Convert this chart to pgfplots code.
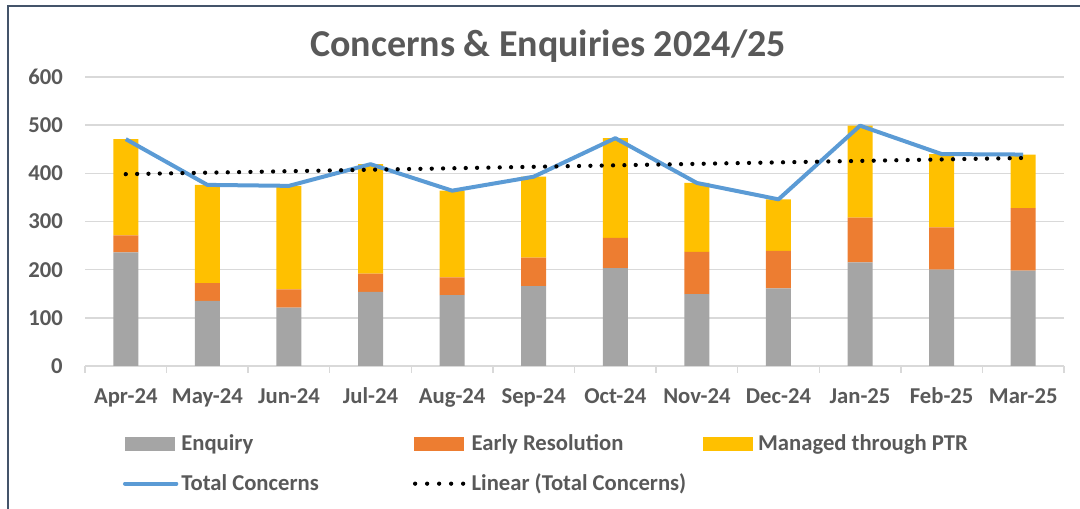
\documentclass[border=0pt]{standalone}
\usepackage{pgfplots}
\pgfplotsset{compat=1.18}
\usepackage{fontspec}
\setmainfont{Carlito}
\definecolor{cgray}{HTML}{A5A5A5}
\definecolor{corange}{HTML}{ED7D31}
\definecolor{cyellow}{HTML}{FFC000}
\definecolor{cblue}{HTML}{5B9BD5}
\definecolor{ctext}{HTML}{595959}
\definecolor{cgrid}{HTML}{D9D9D9}
\definecolor{cframe}{HTML}{44546A}
\newcommand\lbl{\fontsize{17}{20}\selectfont\bfseries}
\newcommand\cell[1]{\makebox[171.75pt][l]{#1}}
\begin{document}
\begin{tikzpicture}[x=1pt,y=1pt]
\useasboundingbox (0,0) rectangle (810,381.75);
\draw[cframe, line width=1.5pt] (6,-20) rectangle (830,377.25);
\node[anchor=base, text=ctext, font=\fontsize{28.5}{33}\selectfont\bfseries] at (411,339.5) {Concerns \& Enquiries 2024/25};
\pgfplotsset{common/.style={
  at={(63.75pt,107.25pt)}, anchor=south west,
  scale only axis, width=734.25pt, height=216.75pt,
  xmin=-0.5, xmax=11.5, ymin=0, ymax=600, enlargelimits=false,
}}
\begin{axis}[common, ybar stacked, bar width=18.75pt,
  axis line style={draw=none},
  ymajorgrids, grid style={cgrid, line width=1.1pt},
  ytick={0,100,...,600},
  xtick={0,...,11},
  xticklabels={Apr-24,May-24,Jun-24,Jul-24,Aug-24,Sep-24,Oct-24,Nov-24,Dec-24,Jan-25,Feb-25,Mar-25},
  minor xtick={-0.5,0.5,...,11.5},
  xtick pos=bottom, ytick pos=left,
  major tick length=0pt, minor tick length=5.25pt, tick align=outside,
  every minor tick/.append style={cgrid, line width=1.1pt},
  ytick style={draw=none},
  /pgf/number format/assume math mode=true,
  ticklabel style={font=\lbl, text=ctext},
  xticklabel style={inner sep=0pt, anchor=base, yshift=-28.5pt},
  yticklabel style={inner sep=0pt, anchor=east, xshift=-16.5pt},
]
\addplot[fill=cgray, draw=none] coordinates {(0,236) (1,135) (2,121) (3,154) (4,147) (5,166) (6,203) (7,149) (8,161) (9,215) (10,200) (11,198)};
\addplot[fill=corange, draw=none] coordinates {(0,35) (1,37) (2,38) (3,38) (4,37) (5,59) (6,63) (7,88) (8,78) (9,93) (10,88) (11,130)};
\addplot[fill=cyellow, draw=none] coordinates {(0,200) (1,204) (2,215) (3,227) (4,180) (5,168) (6,207) (7,143) (8,107) (9,191) (10,152) (11,111)};
\end{axis}
\begin{axis}[common, hide axis, clip=false,
  legend columns=3,
  legend cell align=left,
  legend style={at={(0.0388,-0.2314)}, anchor=north west, draw=none, fill=none,
    inner sep=0pt, outer sep=0pt, font=\lbl, text=ctext,
    row sep=13.8pt, column sep=0pt,
    nodes={inner sep=0pt, text height=13pt, text depth=3.2pt},
    /tikz/every odd column/.append style={column sep=2.25pt}},
]
\addlegendimage{legend image code/.code={\fill[cgray] (1.5pt,-4.75pt) rectangle (38.25pt,4.75pt); \path (0pt,0pt) (40.5pt,0pt);}}
\addlegendentry{\cell{Enquiry}}
\addlegendimage{legend image code/.code={\fill[corange] (1.5pt,-4.75pt) rectangle (38.25pt,4.75pt); \path (0pt,0pt) (40.5pt,0pt);}}
\addlegendentry{\cell{Early Resolution}}
\addlegendimage{legend image code/.code={\fill[cyellow] (1.5pt,-4.75pt) rectangle (38.25pt,4.75pt); \path (0pt,0pt) (40.5pt,0pt);}}
\addlegendentry{Managed through PTR}
\addplot[cblue, line width=3pt, line join=round, mark=none,
  legend image code/.code={\draw[cblue, line width=3pt, line cap=round] (1pt,0pt) -- (39.5pt,0pt);}]
  coordinates {(0,471) (1,376) (2,374) (3,419) (4,364) (5,393) (6,473) (7,380) (8,346) (9,499) (10,440) (11,439)};
\addlegendentry{\cell{Total Concerns}}
\addplot[black, line width=3.2pt, line cap=round, dash pattern=on 0pt off 8.5pt, mark=none,
  legend image code/.code={\draw[black, line width=3.2pt, line cap=round, dash pattern=on 0pt off 9pt] (2pt,0pt) -- (38.5pt,0pt); \path (0pt,0pt) (40.5pt,0pt);}]
  coordinates {(0,398.3) (11,431.9)};
\addlegendentry{Linear (Total Concerns)}
\end{axis}
\end{tikzpicture}
\end{document}
